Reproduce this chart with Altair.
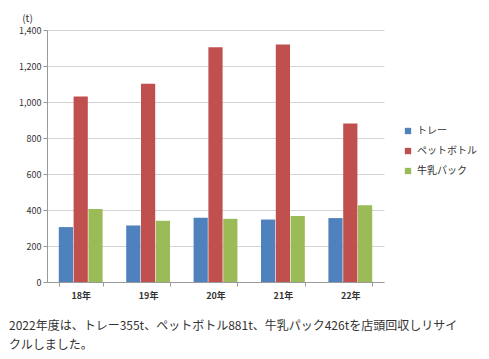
import altair as alt
import pandas as pd

years = ["18年", "19年", "20年", "21年", "22年"]
series = ["トレー", "ペットボトル", "牛乳パック"]
tray = [305, 314, 357, 347, 355]
pet = [1030, 1101, 1304, 1319, 881]
milk = [405, 340, 351, 366, 426]
colors = ["#4F81BD", "#C0504D", "#9BBB59"]
caption = ["2022年度は、トレー355t、ペットボトル881t、牛乳パック426tを店頭回収しリサイ",
           "クルしました。"]

rows = []
for i, y in enumerate(years):
    for s, vals in zip(series, [tray, pet, milk]):
        rows.append({"year": y, "series": s, "value": vals[i]})
df = pd.DataFrame(rows)

FONT = "Noto Sans CJK JP"

chart = alt.Chart(df).mark_bar().encode(
    x=alt.X("year:N", sort=years,
            scale=alt.Scale(paddingInner=0.35, paddingOuter=0.175),
            axis=alt.Axis(title=None, labelAngle=0, labelFontWeight="bold",
                          labelFontSize=9, labelColor="#333", tickBand="extent",
                          domainColor="#999", tickColor="#999", tickSize=4,
                          labelPadding=5)),
    xOffset=alt.XOffset("series:N", sort=series, scale=alt.Scale(paddingInner=0.04)),
    y=alt.Y("value:Q", scale=alt.Scale(domain=[0, 1400]),
            axis=alt.Axis(values=[0, 200, 400, 600, 800, 1000, 1200, 1400], format=",.0f",
                          title="(t)", titleAngle=0, titleX=-20, titleY=-12,
                          titleAlign="center", titleBaseline="middle",
                          titleFontSize=10, titleFontWeight="normal", titleColor="#333",
                          labelFontSize=9, labelColor="#333", gridColor="#d4d4d4",
                          domainColor="#999", tickColor="#999", tickSize=4)),
    color=alt.Color("series:N", sort=series,
                    scale=alt.Scale(domain=series, range=colors),
                    legend=alt.Legend(title=None, orient="none", legendX=356, legendY=96,
                                      symbolType="square", symbolSize=40,
                                      symbolStrokeWidth=0, labelFontSize=10,
                                      labelColor="#333", rowPadding=10)),
).properties(
    width=337, height=252,
    autosize=alt.AutoSizeParams(type="none"),
    padding={"left": 39, "top": 22, "right": 97, "bottom": 69},
    title=alt.TitleParams(text=caption, orient="bottom", anchor="start", frame="group",
                          dx=-38, offset=21, fontSize=12, fontWeight="normal", color="#333",
                          lineHeight=19, font=FONT),
).configure(font=FONT).configure_view(stroke=None)

chart.save("out.html", embed_options={"renderer": "svg", "actions": False})
